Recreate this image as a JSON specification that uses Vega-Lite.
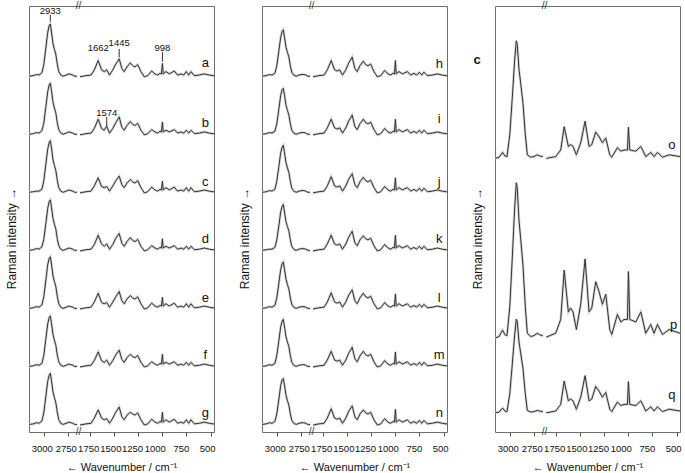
{
"$schema":"https://vega.github.io/schema/vega-lite/v6.json",
"padding":{"left":4,"top":0,"right":2,"bottom":2},
"spacing":17,
"config":{"font":"Liberation Sans","view":{"stroke":"#6e6e6e","strokeWidth":1},
"axis":{"grid":false,"domain":false,"labelFont":"Liberation Sans","titleFont":"Liberation Sans","labelColor":"#111","titleColor":"#111","titleFontWeight":"normal"},
"axisX":{"tickSize":4,"tickColor":"#555","labelFontSize":9.5,"labelPadding":7,"titleFontSize":11,"titlePadding":9,"labelOverlap":false,"labelFlush":false,"format":"d","tickCount":20},
"axisY":{"ticks":false,"labels":false,"titleFontSize":12,"titlePadding":11,"titleY":232}},
"datasets":{
"p1":[
{"w":3153,"r":"h","a":601,"b":501,"c":401,"d":301,"e":201,"f":101,"g":1},
{"w":3110,"r":"h","a":602,"b":502,"c":402,"d":302,"e":202,"f":102,"g":2},
{"w":3075,"r":"h","a":604,"b":504,"c":403,"d":304,"e":204,"f":104,"g":4},
{"w":3050,"r":"h","a":603,"b":503,"c":403,"d":303,"e":203,"f":103,"g":3},
{"w":3020,"r":"h","a":607,"b":507,"c":406,"d":307,"e":207,"f":106,"g":7},
{"w":3000,"r":"h","a":621,"b":520,"c":421,"d":320,"e":221,"f":120,"g":21},
{"w":2980,"r":"h","a":648,"b":547,"c":448,"d":346,"e":248,"f":147,"g":48},
{"w":2960,"r":"h","a":676,"b":574,"c":475,"d":373,"e":276,"f":174,"g":75},
{"w":2945,"r":"h","a":688,"b":586,"c":487,"d":385,"e":287,"f":185,"g":86},
{"w":2933,"r":"h","a":691,"b":589,"c":490,"d":388,"e":290,"f":188,"g":89},
{"w":2922,"r":"h","a":679,"b":578,"c":479,"d":377,"e":279,"f":177,"g":78},
{"w":2905,"r":"h","a":657,"b":556,"c":457,"d":356,"e":257,"f":156,"g":57},
{"w":2890,"r":"h","a":647,"b":546,"c":447,"d":346,"e":247,"f":146,"g":47},
{"w":2875,"r":"h","a":638,"b":537,"c":438,"d":337,"e":238,"f":137,"g":38},
{"w":2860,"r":"h","a":621,"b":520,"c":421,"d":320,"e":221,"f":120,"g":21},
{"w":2845,"r":"h","a":609,"b":509,"c":409,"d":309,"e":209,"f":109,"g":9},
{"w":2825,"r":"h","a":603,"b":503,"c":403,"d":303,"e":203,"f":103,"g":3},
{"w":2800,"r":"h","a":601,"b":501,"c":401,"d":301,"e":201,"f":101,"g":1},
{"w":2770,"r":"h","a":603,"b":503,"c":403,"d":303,"e":203,"f":103,"g":3},
{"w":2740,"r":"h","a":605,"b":505,"c":405,"d":305,"e":205,"f":105,"g":5},
{"w":2720,"r":"h","a":604,"b":504,"c":404,"d":304,"e":204,"f":104,"g":4},
{"w":2700,"r":"h","a":603,"b":503,"c":403,"d":303,"e":203,"f":103,"g":3},
{"w":2680,"r":"h","a":601,"b":501,"c":401,"d":301,"e":201,"f":101,"g":1},
{"w":2657,"r":"h","a":601,"b":501,"c":401,"d":301,"e":201,"f":101,"g":1},
{"w":1850,"r":"l","a":600,"b":500,"c":400,"d":300,"e":200,"f":100,"g":0},
{"w":1788,"r":"l","a":602,"b":502,"c":402,"d":302,"e":202,"f":102,"g":2},
{"w":1736,"r":"l","a":603,"b":503,"c":403,"d":303,"e":203,"f":103,"g":3},
{"w":1702,"r":"l","a":612,"b":511,"c":412,"d":311,"e":212,"f":111,"g":12},
{"w":1662,"r":"l","a":628,"b":527,"c":426,"d":327,"e":227,"f":126,"g":26},
{"w":1627,"r":"l","a":612,"b":511,"c":411,"d":312,"e":211,"f":111,"g":12},
{"w":1600,"r":"l","a":609,"b":508,"c":409,"d":308,"e":209,"f":108,"g":9},
{"w":1574,"r":"l","a":612,"b":515,"c":411,"d":312,"e":211,"f":112,"g":11},
{"w":1545,"r":"l","a":603,"b":503,"c":403,"d":303,"e":203,"f":103,"g":3},
{"w":1511,"r":"l","a":612,"b":511,"c":412,"d":311,"e":212,"f":111,"g":12},
{"w":1480,"r":"l","a":622,"b":521,"c":421,"d":322,"e":221,"f":121,"g":22},
{"w":1445,"r":"l","a":631,"b":531,"c":429,"d":330,"e":230,"f":129,"g":31},
{"w":1417,"r":"l","a":614,"b":513,"c":414,"d":313,"e":214,"f":113,"g":14},
{"w":1393,"r":"l","a":609,"b":508,"c":409,"d":308,"e":209,"f":108,"g":9},
{"w":1365,"r":"l","a":617,"b":516,"c":417,"d":316,"e":217,"f":116,"g":17},
{"w":1330,"r":"l","a":624,"b":523,"c":423,"d":323,"e":223,"f":122,"g":22},
{"w":1305,"r":"l","a":619,"b":518,"c":419,"d":318,"e":219,"f":118,"g":19},
{"w":1282,"r":"l","a":617,"b":516,"c":417,"d":316,"e":217,"f":116,"g":17},
{"w":1254,"r":"l","a":621,"b":520,"c":421,"d":320,"e":221,"f":120,"g":21},
{"w":1220,"r":"l","a":609,"b":508,"c":409,"d":308,"e":209,"f":108,"g":9},
{"w":1185,"r":"l","a":600,"b":500,"c":400,"d":300,"e":200,"f":100,"g":0},
{"w":1150,"r":"l","a":602,"b":502,"c":402,"d":302,"e":202,"f":102,"g":2},
{"w":1109,"r":"l","a":610,"b":509,"c":410,"d":309,"e":210,"f":109,"g":10},
{"w":1075,"r":"l","a":605,"b":505,"c":405,"d":305,"e":205,"f":105,"g":5},
{"w":1047,"r":"l","a":603,"b":503,"c":403,"d":303,"e":203,"f":103,"g":3},
{"w":1023,"r":"l","a":606,"b":506,"c":406,"d":306,"e":206,"f":106,"g":6},
{"w":1008,"r":"l","a":605,"b":505,"c":405,"d":305,"e":205,"f":105,"g":5},
{"w":998,"r":"l","a":623,"b":522,"c":420,"d":321,"e":220,"f":122,"g":22},
{"w":990,"r":"l","a":605,"b":505,"c":405,"d":305,"e":205,"f":105,"g":5},
{"w":961,"r":"l","a":609,"b":508,"c":409,"d":308,"e":209,"f":108,"g":9},
{"w":927,"r":"l","a":605,"b":505,"c":405,"d":305,"e":205,"f":105,"g":5},
{"w":875,"r":"l","a":610,"b":509,"c":410,"d":309,"e":210,"f":109,"g":10},
{"w":841,"r":"l","a":603,"b":503,"c":403,"d":303,"e":203,"f":103,"g":3},
{"w":806,"r":"l","a":605,"b":505,"c":405,"d":305,"e":205,"f":105,"g":5},
{"w":778,"r":"l","a":603,"b":503,"c":403,"d":303,"e":203,"f":103,"g":3},
{"w":751,"r":"l","a":609,"b":508,"c":409,"d":308,"e":209,"f":108,"g":9},
{"w":726,"r":"l","a":603,"b":503,"c":403,"d":303,"e":203,"f":103,"g":3},
{"w":703,"r":"l","a":609,"b":508,"c":409,"d":308,"e":209,"f":108,"g":9},
{"w":668,"r":"l","a":602,"b":502,"c":402,"d":302,"e":202,"f":102,"g":2},
{"w":617,"r":"l","a":603,"b":503,"c":403,"d":303,"e":203,"f":103,"g":3},
{"w":565,"r":"l","a":605,"b":505,"c":405,"d":305,"e":205,"f":105,"g":5},
{"w":514,"r":"l","a":603,"b":503,"c":403,"d":303,"e":203,"f":103,"g":3},
{"w":476,"r":"l","a":602,"b":502,"c":402,"d":302,"e":202,"f":102,"g":2},
{"w":465,"r":"l","a":602,"b":502,"c":402,"d":302,"e":202,"f":102,"g":2}
],
"p2":[
{"w":3153,"r":"h","h":601,"i":501,"j":401,"k":301,"l":201,"m":101,"n":1},
{"w":3110,"r":"h","h":602,"i":502,"j":402,"k":302,"l":202,"m":102,"n":2},
{"w":3075,"r":"h","h":604,"i":504,"j":404,"k":303,"l":204,"m":104,"n":4},
{"w":3050,"r":"h","h":603,"i":503,"j":403,"k":303,"l":203,"m":103,"n":3},
{"w":3020,"r":"h","h":606,"i":506,"j":406,"k":306,"l":206,"m":106,"n":6},
{"w":3000,"r":"h","h":619,"i":519,"j":420,"k":319,"l":219,"m":120,"n":19},
{"w":2980,"r":"h","h":643,"i":543,"j":444,"k":342,"l":243,"m":144,"n":43},
{"w":2960,"r":"h","h":668,"i":568,"j":469,"k":367,"l":268,"m":169,"n":68},
{"w":2945,"r":"h","h":678,"i":578,"j":479,"k":377,"l":278,"m":179,"n":78},
{"w":2933,"r":"h","h":681,"i":580,"j":482,"k":380,"l":281,"m":182,"n":80},
{"w":2922,"r":"h","h":670,"i":570,"j":471,"k":369,"l":270,"m":171,"n":70},
{"w":2905,"r":"h","h":651,"i":551,"j":452,"k":350,"l":251,"m":152,"n":51},
{"w":2890,"r":"h","h":642,"i":542,"j":443,"k":342,"l":242,"m":143,"n":42},
{"w":2875,"r":"h","h":634,"i":534,"j":435,"k":334,"l":234,"m":135,"n":34},
{"w":2860,"r":"h","h":619,"i":519,"j":420,"k":319,"l":219,"m":120,"n":19},
{"w":2845,"r":"h","h":608,"i":508,"j":408,"k":308,"l":208,"m":108,"n":8},
{"w":2825,"r":"h","h":603,"i":503,"j":403,"k":303,"l":203,"m":103,"n":3},
{"w":2800,"r":"h","h":601,"i":501,"j":401,"k":301,"l":201,"m":101,"n":1},
{"w":2770,"r":"h","h":603,"i":503,"j":403,"k":303,"l":203,"m":103,"n":3},
{"w":2740,"r":"h","h":604,"i":504,"j":404,"k":304,"l":204,"m":104,"n":4},
{"w":2720,"r":"h","h":604,"i":504,"j":404,"k":304,"l":204,"m":104,"n":4},
{"w":2700,"r":"h","h":603,"i":503,"j":403,"k":303,"l":203,"m":103,"n":3},
{"w":2680,"r":"h","h":601,"i":501,"j":401,"k":301,"l":201,"m":101,"n":1},
{"w":2657,"r":"h","h":601,"i":501,"j":401,"k":301,"l":201,"m":101,"n":1},
{"w":1850,"r":"l","h":600,"i":500,"j":400,"k":300,"l":200,"m":100,"n":0},
{"w":1788,"r":"l","h":602,"i":502,"j":402,"k":302,"l":202,"m":102,"n":2},
{"w":1736,"r":"l","h":603,"i":503,"j":403,"k":303,"l":203,"m":103,"n":3},
{"w":1702,"r":"l","h":612,"i":512,"j":412,"k":312,"l":212,"m":112,"n":12},
{"w":1662,"r":"l","h":628,"i":527,"j":428,"k":327,"l":228,"m":127,"n":28},
{"w":1627,"r":"l","h":612,"i":512,"j":412,"k":312,"l":212,"m":112,"n":12},
{"w":1600,"r":"l","h":610,"i":510,"j":410,"k":310,"l":210,"m":110,"n":10},
{"w":1574,"r":"l","h":612,"i":512,"j":412,"k":312,"l":212,"m":112,"n":12},
{"w":1545,"r":"l","h":603,"i":503,"j":403,"k":303,"l":203,"m":103,"n":3},
{"w":1511,"r":"l","h":612,"i":512,"j":412,"k":312,"l":212,"m":112,"n":12},
{"w":1480,"r":"l","h":624,"i":524,"j":424,"k":324,"l":224,"m":124,"n":24},
{"w":1445,"r":"l","h":634,"i":534,"j":433,"k":334,"l":233,"m":134,"n":33},
{"w":1417,"r":"l","h":614,"i":514,"j":414,"k":314,"l":214,"m":114,"n":14},
{"w":1393,"r":"l","h":609,"i":509,"j":409,"k":309,"l":209,"m":109,"n":9},
{"w":1365,"r":"l","h":619,"i":519,"j":419,"k":319,"l":219,"m":119,"n":19},
{"w":1330,"r":"l","h":627,"i":527,"j":427,"k":326,"l":227,"m":127,"n":26},
{"w":1305,"r":"l","h":621,"i":521,"j":421,"k":321,"l":221,"m":121,"n":21},
{"w":1282,"r":"l","h":619,"i":519,"j":419,"k":319,"l":219,"m":119,"n":19},
{"w":1254,"r":"l","h":622,"i":522,"j":422,"k":322,"l":222,"m":122,"n":22},
{"w":1220,"r":"l","h":609,"i":509,"j":409,"k":309,"l":209,"m":109,"n":9},
{"w":1185,"r":"l","h":600,"i":500,"j":400,"k":300,"l":200,"m":100,"n":0},
{"w":1150,"r":"l","h":602,"i":502,"j":402,"k":302,"l":202,"m":102,"n":2},
{"w":1109,"r":"l","h":611,"i":511,"j":411,"k":311,"l":211,"m":111,"n":11},
{"w":1075,"r":"l","h":605,"i":505,"j":405,"k":305,"l":205,"m":105,"n":5},
{"w":1047,"r":"l","h":603,"i":503,"j":403,"k":303,"l":203,"m":103,"n":3},
{"w":1023,"r":"l","h":606,"i":506,"j":406,"k":306,"l":206,"m":106,"n":6},
{"w":1008,"r":"l","h":605,"i":505,"j":405,"k":305,"l":205,"m":105,"n":5},
{"w":998,"r":"l","h":628,"i":527,"j":426,"k":327,"l":226,"m":126,"n":27},
{"w":990,"r":"l","h":605,"i":505,"j":405,"k":305,"l":205,"m":105,"n":5},
{"w":961,"r":"l","h":609,"i":509,"j":409,"k":309,"l":209,"m":109,"n":9},
{"w":927,"r":"l","h":605,"i":505,"j":405,"k":305,"l":205,"m":105,"n":5},
{"w":875,"r":"l","h":609,"i":509,"j":409,"k":309,"l":209,"m":109,"n":9},
{"w":841,"r":"l","h":603,"i":503,"j":403,"k":303,"l":203,"m":103,"n":3},
{"w":806,"r":"l","h":606,"i":506,"j":406,"k":306,"l":206,"m":106,"n":6},
{"w":778,"r":"l","h":603,"i":503,"j":403,"k":303,"l":203,"m":103,"n":3},
{"w":751,"r":"l","h":608,"i":508,"j":408,"k":308,"l":208,"m":108,"n":8},
{"w":726,"r":"l","h":603,"i":503,"j":403,"k":303,"l":203,"m":103,"n":3},
{"w":703,"r":"l","h":608,"i":508,"j":408,"k":308,"l":208,"m":108,"n":8},
{"w":668,"r":"l","h":602,"i":502,"j":402,"k":302,"l":202,"m":102,"n":2},
{"w":617,"r":"l","h":603,"i":503,"j":403,"k":303,"l":203,"m":103,"n":3},
{"w":565,"r":"l","h":605,"i":505,"j":405,"k":305,"l":205,"m":105,"n":5},
{"w":514,"r":"l","h":603,"i":503,"j":403,"k":303,"l":203,"m":103,"n":3},
{"w":476,"r":"l","h":602,"i":502,"j":402,"k":302,"l":202,"m":102,"n":2},
{"w":465,"r":"l","h":602,"i":502,"j":402,"k":302,"l":202,"m":102,"n":2}
],
"p3":[
{"w":3153,"r":"h","o":213,"p":63.3,"q":1},
{"w":3110,"r":"h","o":214,"p":64.6,"q":1.6},
{"w":3075,"r":"h","o":218,"p":69.9,"q":5},
{"w":3050,"r":"h","o":215,"p":66,"q":2.4},
{"w":3029,"r":"h","o":214.5,"p":65.3,"q":2},
{"w":3000,"r":"h","o":233,"p":89.7,"q":17},
{"w":2974,"r":"h","o":264,"p":130.6,"q":42},
{"w":2950,"r":"h","o":295,"p":171.6,"q":66},
{"w":2933,"r":"h","o":311,"p":192.7,"q":79},
{"w":2923,"r":"h","o":308,"p":188.7,"q":77},
{"w":2905,"r":"h","o":287,"p":161,"q":60},
{"w":2888,"r":"h","o":276,"p":146.5,"q":51},
{"w":2864,"r":"h","o":259,"p":124,"q":38},
{"w":2840,"r":"h","o":233,"p":89.7,"q":17},
{"w":2819,"r":"h","o":216,"p":67.3,"q":3},
{"w":2785,"r":"h","o":214,"p":64.6,"q":1.6},
{"w":2750,"r":"h","o":214.5,"p":65.3,"q":2},
{"w":2716,"r":"h","o":216,"p":67.3,"q":3},
{"w":2690,"r":"h","o":215,"p":66,"q":2.4},
{"w":2664,"r":"h","o":214.5,"p":65.3,"q":2},
{"w":2657,"r":"h","o":214.5,"p":65.3,"q":2},
{"w":1847,"r":"l","o":213,"p":64.1,"q":1},
{"w":1750,"r":"l","o":214.5,"p":67.3,"q":2.5},
{"w":1698,"r":"l","o":220,"p":78.8,"q":8},
{"w":1662,"r":"l","o":239.5,"p":119.8,"q":27.5},
{"w":1619,"r":"l","o":223,"p":85.1,"q":11},
{"w":1595,"r":"l","o":224.5,"p":88.3,"q":12.5},
{"w":1571,"r":"l","o":223,"p":85.1,"q":11},
{"w":1536,"r":"l","o":216,"p":70.4,"q":4},
{"w":1491,"r":"l","o":226,"p":91.4,"q":14},
{"w":1446,"r":"l","o":244,"p":129.2,"q":32},
{"w":1405,"r":"l","o":223,"p":85.1,"q":11},
{"w":1377,"r":"l","o":224.5,"p":88.3,"q":12.5},
{"w":1336,"r":"l","o":235,"p":110.3,"q":23},
{"w":1301,"r":"l","o":231,"p":101.9,"q":19},
{"w":1267,"r":"l","o":226,"p":91.4,"q":14},
{"w":1232,"r":"l","o":230,"p":99.8,"q":18},
{"w":1191,"r":"l","o":216,"p":70.4,"q":4},
{"w":1170,"r":"l","o":214,"p":66.2,"q":2},
{"w":1112,"r":"l","o":222,"p":83,"q":10},
{"w":1077,"r":"l","o":219,"p":76.7,"q":7},
{"w":1043,"r":"l","o":220,"p":78.8,"q":8},
{"w":1008,"r":"l","o":220,"p":78.8,"q":8},
{"w":998,"r":"l","o":239,"p":118.7,"q":27},
{"w":984,"r":"l","o":220,"p":78.8,"q":8},
{"w":922,"r":"l","o":219,"p":76.7,"q":7},
{"w":870,"r":"l","o":223,"p":85.1,"q":11},
{"w":819,"r":"l","o":214.5,"p":67.3,"q":2.5},
{"w":767,"r":"l","o":218,"p":74.6,"q":6},
{"w":733,"r":"l","o":214.5,"p":67.3,"q":2.5},
{"w":698,"r":"l","o":218,"p":74.6,"q":6},
{"w":646,"r":"l","o":214,"p":66.2,"q":2},
{"w":577,"r":"l","o":216,"p":70.4,"q":4},
{"w":465,"r":"l","o":214.5,"p":67.3,"q":2.5}
],
"lab1":[{"w":555,"t":"a","ty":624},{"w":555,"t":"b","ty":521},{"w":555,"t":"c","ty":419},{"w":555,"t":"d","ty":321},{"w":555,"t":"e","ty":219},{"w":555,"t":"f","ty":121},{"w":555,"t":"g","ty":21}],
"lab2":[{"w":545,"t":"h","ty":622},{"w":545,"t":"i","ty":527},{"w":545,"t":"j","ty":419},{"w":545,"t":"k","ty":321},{"w":545,"t":"l","ty":219},{"w":545,"t":"m","ty":121},{"w":545,"t":"n","ty":21}],
"lab3":[{"w":548,"t":"o","ty":224},{"w":530,"t":"p","ty":74},{"w":548,"t":"q","ty":16}],
"ann":[{"w":2933,"t":"2933","ty":714},{"w":1662,"t":"1662","ty":650},{"w":1445,"t":"1445","ty":659},{"w":998,"t":"998","ty":650},{"w":1574,"t":"1574","ty":538}],
"annr":[{"w":2933,"y1":695,"y2":707},{"w":1445,"y1":634,"y2":648},{"w":998,"y1":626,"y2":643},{"w":1574,"y1":515,"y2":531}]
},
"hconcat":[
{"width":185,"height":426,
"layer":[
{"data":{"name":"p1"},"transform":[{"fold":["a","b","c","d","e","f","g"],"as":["s","v"]}],
"mark":{"type":"line","stroke":"#d3d3d3","strokeWidth":2.6},
"encoding":{"x":{"field":"w","type":"quantitative","scale":{"domain":[3153,2657,1850,465],"range":[0,48,51,185],"nice":false,"zero":false},"axis":{"values":[3000,2750,1750,1500,1250,1000,750,500],"format":"d","labelOverlap":false,"tickCount":20,"labelOffset":{"condition":[{"test":"datum.value == 3000","value":-2},{"test":"datum.value == 2750","value":-2.3},{"test":"datum.value == 1750","value":-1.5},{"test":"datum.value == 1500","value":-3.5},{"test":"datum.value == 1250","value":-6},{"test":"datum.value == 1000","value":-7.5},{"test":"datum.value == 750","value":-5.5}],"value":-3.5},"title":"← Wavenumber / cm⁻¹"}},
"y":{"field":"v","type":"quantitative","scale":{"domain":[-12,722],"nice":false,"zero":false},"axis":{"title":"Raman intensity →"}},
"detail":[{"field":"s"},{"field":"r"}]}},
{"data":{"name":"p1"},"transform":[{"fold":["a","b","c","d","e","f","g"],"as":["s","v"]}],
"mark":{"type":"line","stroke":"#333333","strokeWidth":1},
"encoding":{"x":{"field":"w","type":"quantitative"},"y":{"field":"v","type":"quantitative"},"detail":[{"field":"s"},{"field":"r"}]}},
{"data":{"name":"lab1"},"mark":{"type":"text","fontSize":13,"color":"#111"},"encoding":{"x":{"field":"w","type":"quantitative"},"y":{"field":"ty","type":"quantitative"},"text":{"field":"t"}}},
{"data":{"name":"ann"},"mark":{"type":"text","fontSize":9.5,"color":"#111"},"encoding":{"x":{"field":"w","type":"quantitative"},"y":{"field":"ty","type":"quantitative"},"text":{"field":"t"}}},
{"data":{"name":"annr"},"mark":{"type":"rule","stroke":"#333"},"encoding":{"x":{"field":"w","type":"quantitative"},"y":{"field":"y1","type":"quantitative"},"y2":{"field":"y2"}}},
{"data":{"values":[{}]},"mark":{"type":"text","text":"//","fontSize":10,"color":"#333"},"encoding":{"x":{"datum":2250},"y":{"datum":722}}},
{"data":{"values":[{}]},"mark":{"type":"text","text":"//","fontSize":10,"color":"#333"},"encoding":{"x":{"datum":2250},"y":{"datum":-12}}}
]},
{"width":185,"height":426,
"layer":[
{"data":{"name":"p2"},"transform":[{"fold":["h","i","j","k","l","m","n"],"as":["s","v"]}],
"mark":{"type":"line","stroke":"#d3d3d3","strokeWidth":2.6},
"encoding":{"x":{"field":"w","type":"quantitative","scale":{"domain":[3153,2657,1850,465],"range":[0,48,51,185],"nice":false,"zero":false},"axis":{"values":[3000,2750,1750,1500,1250,1000,750,500],"format":"d","labelOverlap":false,"tickCount":20,"labelOffset":{"condition":[{"test":"datum.value == 3000","value":-2},{"test":"datum.value == 2750","value":-2.3},{"test":"datum.value == 1750","value":-1.5},{"test":"datum.value == 1500","value":-3.5},{"test":"datum.value == 1250","value":-6},{"test":"datum.value == 1000","value":-7.5},{"test":"datum.value == 750","value":-5.5}],"value":-3.5},"title":"← Wavenumber / cm⁻¹"}},
"y":{"field":"v","type":"quantitative","scale":{"domain":[-12,722],"nice":false,"zero":false},"axis":{"title":"Raman intensity →"}},
"detail":[{"field":"s"},{"field":"r"}]}},
{"data":{"name":"p2"},"transform":[{"fold":["h","i","j","k","l","m","n"],"as":["s","v"]}],
"mark":{"type":"line","stroke":"#333333","strokeWidth":1},
"encoding":{"x":{"field":"w","type":"quantitative"},"y":{"field":"v","type":"quantitative"},"detail":[{"field":"s"},{"field":"r"}]}},
{"data":{"name":"lab2"},"mark":{"type":"text","fontSize":13,"color":"#111"},"encoding":{"x":{"field":"w","type":"quantitative"},"y":{"field":"ty","type":"quantitative"},"text":{"field":"t"}}},
{"data":{"values":[{}]},"mark":{"type":"text","text":"//","fontSize":10,"color":"#333"},"encoding":{"x":{"datum":2250},"y":{"datum":722}}},
{"data":{"values":[{}]},"mark":{"type":"text","text":"//","fontSize":10,"color":"#333"},"encoding":{"x":{"datum":2250},"y":{"datum":-12}}}
]},
{"width":185,"height":426,
"layer":[
{"data":{"name":"p3"},"transform":[{"fold":["o","p","q"],"as":["s","v"]}],
"mark":{"type":"line","stroke":"#d3d3d3","strokeWidth":2.6},
"encoding":{"x":{"field":"w","type":"quantitative","scale":{"domain":[3153,2657,1850,465],"range":[0,48,51,185],"nice":false,"zero":false},"axis":{"values":[3000,2750,1750,1500,1250,1000,750,500],"format":"d","labelOverlap":false,"tickCount":20,"labelOffset":{"condition":[{"test":"datum.value == 3000","value":-2},{"test":"datum.value == 2750","value":-2.3},{"test":"datum.value == 1750","value":-1.5},{"test":"datum.value == 1500","value":-3.5},{"test":"datum.value == 1250","value":-6},{"test":"datum.value == 1000","value":-7.5},{"test":"datum.value == 750","value":-5.5}],"value":-3.5},"title":"← Wavenumber / cm⁻¹"}},
"y":{"field":"v","type":"quantitative","scale":{"domain":[-15,340],"nice":false,"zero":false},"axis":{"title":"Raman intensity →"}},
"detail":[{"field":"s"},{"field":"r"}]}},
{"data":{"name":"p3"},"transform":[{"fold":["o","p","q"],"as":["s","v"]}],
"mark":{"type":"line","stroke":"#333333","strokeWidth":1},
"encoding":{"x":{"field":"w","type":"quantitative"},"y":{"field":"v","type":"quantitative"},"detail":[{"field":"s"},{"field":"r"}]}},
{"data":{"name":"lab3"},"mark":{"type":"text","fontSize":13,"color":"#111"},"encoding":{"x":{"field":"w","type":"quantitative"},"y":{"field":"ty","type":"quantitative"},"text":{"field":"t"}}},
{"data":{"values":[{}]},"mark":{"type":"text","text":"c","fontSize":13,"fontWeight":"bold","color":"#111"},"encoding":{"x":{"datum":3339},"y":{"datum":295}}},
{"data":{"values":[{}]},"mark":{"type":"text","text":"//","fontSize":10,"color":"#333"},"encoding":{"x":{"datum":2250},"y":{"datum":340}}},
{"data":{"values":[{}]},"mark":{"type":"text","text":"//","fontSize":10,"color":"#333"},"encoding":{"x":{"datum":2250},"y":{"datum":-15}}}
]}
]
}
